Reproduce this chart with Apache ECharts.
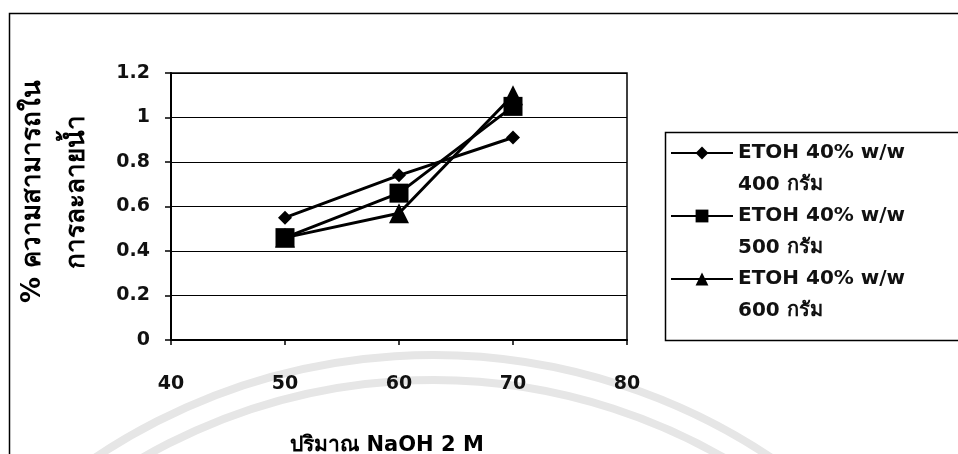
<!DOCTYPE html>
<html><head><meta charset="utf-8">
<script src="https://cdn.jsdelivr.net/npm/echarts@6/dist/echarts.min.js"></script>
<style>html,body{margin:0;padding:0;background:#fff}#c{width:958px;height:454px}</style>
</head><body><div id="c"></div>
<script>
const xValues = [50, 60, 70];
const s400 = [0.55, 0.74, 0.91];
const s500 = [0.46, 0.66, 1.05];
const s600 = [0.46, 0.57, 1.10];
const seriesNames = ['ETOH 40% w/w\n400 กรัม', 'ETOH 40% w/w\n500 กรัม', 'ETOH 40% w/w\n600 กรัม'];
const xTicks = [40, 50, 60, 70, 80];
const yTicks = [0, 0.2, 0.4, 0.6, 0.8, 1, 1.2];
const xTitle = 'ปริมาณ NaOH 2 M';
const yTitle = '% ความสามารถใน\nการละลายน้ำ';

const FONT = "'DejaVu Sans', 'Noto Sans', sans-serif";
const chart = echarts.init(document.getElementById('c'), null, {renderer: 'canvas'});
const pairs = v => xValues.map((x, i) => [x, v[i]]);
const mk = (name, vals, symbol, size) => ({
  name, type: 'line', data: pairs(vals), symbol, symbolSize: size,
  lineStyle: {color: '#000', width: 3}, itemStyle: {color: '#000'},
  animation: false, z: symbol === 'diamond' ? 3 : 2
});
chart.setOption({
  animation: false,
  backgroundColor: '#fff',
  textStyle: {fontFamily: FONT},
  graphic: [
    {type: 'arc', shape: {cx: 433, cy: 962, r: 607, startAngle: Math.PI * 1.1, endAngle: Math.PI * 1.9}, style: {fill: 'none', stroke: '#e6e6e6', lineWidth: 8}, silent: true, z: -10},
    {type: 'arc', shape: {cx: 433, cy: 962, r: 582, startAngle: Math.PI * 1.1, endAngle: Math.PI * 1.9}, style: {fill: 'none', stroke: '#e6e6e6', lineWidth: 8}, silent: true, z: -10},
    {type: 'rect', shape: {x: 9.5, y: 13.5, width: 1000, height: 500}, style: {fill: 'none', stroke: '#000', lineWidth: 1.5}, silent: true, z: -1},
    {type: 'rect', shape: {x: 665.5, y: 132.5, width: 400, height: 208}, style: {fill: '#fff', stroke: '#000', lineWidth: 1.5}, silent: true, z: -1}
  ],
  grid: {left: 171, top: 73, width: 456, height: 267, show: true, borderColor: '#000', borderWidth: 1.5, containLabel: false, outerBoundsMode: 'none'},
  xAxis: {
    type: 'value', min: xTicks[0], max: xTicks[xTicks.length - 1], interval: 10,
    name: xTitle, nameLocation: 'middle', nameGap: 95,
    nameTextStyle: {fontSize: 21, fontWeight: 'bold', color: '#000', fontFamily: FONT, padding: [0, 24, 0, 0]},
    axisLine: {show: true, lineStyle: {color: '#000', width: 2}},
    axisTick: {show: true, inside: false, length: 5, lineStyle: {color: '#000', width: 1.5}},
    axisLabel: {fontSize: 19, fontWeight: 'bold', color: '#111', margin: 35, fontFamily: FONT},
    splitLine: {show: false}
  },
  yAxis: {
    type: 'value', min: yTicks[0], max: yTicks[yTicks.length - 1], interval: 0.2,
    name: yTitle, nameLocation: 'middle', nameGap: 72, nameRotate: 90,
    nameTextStyle: {fontSize: 26, fontWeight: 'bold', color: '#000', lineHeight: 44, fontFamily: FONT, padding: [0, 0, 0, 30]},
    axisLine: {show: true, lineStyle: {color: '#000', width: 2}},
    axisTick: {show: true, inside: false, length: 6, lineStyle: {color: '#000', width: 1.5}},
    axisLabel: {fontSize: 19, fontWeight: 'bold', color: '#111', margin: 21, fontFamily: FONT},
    splitLine: {show: true, lineStyle: {color: '#000', width: 1.2}}
  },
  legend: {
    orient: 'vertical', left: 665, top: 100,
    itemWidth: 62, itemHeight: 16, itemGap: -33,
    data: seriesNames,
    formatter: n => '\n' + n,
    textStyle: {fontSize: 20, fontWeight: 'bold', color: '#111', lineHeight: 32, fontFamily: FONT}
  },
  series: [
    mk(seriesNames[0], s400, 'diamond', 14),
    mk(seriesNames[1], s500, 'rect', 19),
    mk(seriesNames[2], s600, 'triangle', 20)
  ]
});
</script></body></html>
